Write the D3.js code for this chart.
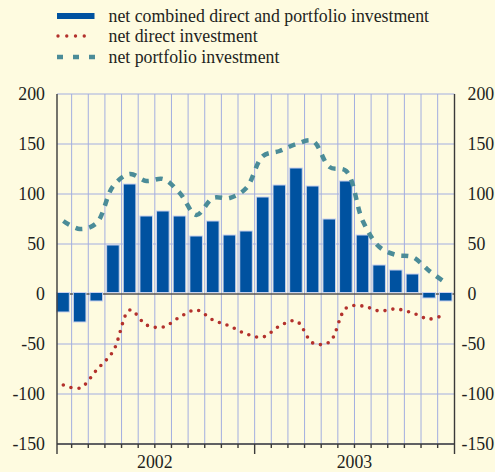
<!DOCTYPE html>
<html>
<head>
<meta charset="utf-8">
<script src="https://cdn.jsdelivr.net/npm/d3@7"></script>
<style>
  html, body { margin: 0; padding: 0; background: #fefbe0; }
  svg { display: block; }
</style>
</head>
<body>
<svg id="chart" width="495" height="472"></svg>
<script>
// Monthly categories, January 2002 to December 2003
const months = [
  "2002-01","2002-02","2002-03","2002-04","2002-05","2002-06",
  "2002-07","2002-08","2002-09","2002-10","2002-11","2002-12",
  "2003-01","2003-02","2003-03","2003-04","2003-05","2003-06",
  "2003-07","2003-08","2003-09","2003-10","2003-11","2003-12"
];
const years = ["2002", "2003"];

// Net combined direct and portfolio investment (bars)
const combined = [-18, -28, -7, 49, 110, 78, 83, 78, 58, 73, 59, 63,
                  97, 109, 126, 108, 75, 113, 59, 29, 24, 20, -4, -7];
// Net direct investment (dotted line)
const direct = [-91, -94, -76, -57, -16, -31, -33, -23, -16, -26, -32, -40,
                -43, -32, -27, -49, -48, -14, -12, -17, -15, -19, -25, -20];
// Net portfolio investment (dashed line)
const portfolio = [73, 65, 71, 108, 120, 113, 115, 101, 79, 96, 96, 106,
                   138, 143, 150, 153, 127, 123, 73, 47, 39, 37, 23, 11];

const yTicks = [-150, -100, -50, 0, 50, 100, 150, 200];

const legendItems = [
  { label: "net combined direct and portfolio investment", kind: "bar" },
  { label: "net direct investment", kind: "dot" },
  { label: "net portfolio investment", kind: "dash" }
];

const colors = {
  bar: "#0052a0",
  barEdge: "#c9d2ee",
  dot: "#b3312c",
  dash: "#4b8c98",
  grid: "#a3aee0",
  axis: "#3a3a3a",
  text: "#231f20"
};
const fs = 17.8;

const svg = d3.select("#chart");

const plotL = 57, plotR = 454.5, plotT = 94, plotB = 444;

const x = d3.scaleBand().domain(months).range([55, 454.3]).padding(0);
const y = d3.scaleLinear().domain([-150, 200]).range([plotB, plotT]);
const bw = x.bandwidth();
const cx = d => x(d) + bw / 2;

// Grid
const grid = svg.append("g");
grid.selectAll("line.h")
  .data(yTicks.filter(v => v !== 0))
  .join("line")
  .attr("x1", plotL).attr("x2", plotR)
  .attr("y1", d => y(d)).attr("y2", d => y(d))
  .attr("stroke", colors.grid).attr("stroke-width", 1);
grid.selectAll("line.v")
  .data(months.slice(1))
  .join("line")
  .attr("x1", d => x(d)).attr("x2", d => x(d))
  .attr("y1", plotT).attr("y2", plotB)
  .attr("stroke", colors.grid).attr("stroke-width", 1);

// Zero line
svg.append("line")
  .attr("x1", plotL).attr("x2", plotR)
  .attr("y1", y(0)).attr("y2", y(0))
  .attr("stroke", "#555").attr("stroke-width", 1.5);

// Bars
const barW = 12.6;
svg.append("g").selectAll("rect")
  .data(months.map((m, i) => ({ m, v: combined[i] })))
  .join("rect")
  .attr("x", d => cx(d.m) - barW / 2 - 0.3)
  .attr("width", barW)
  .attr("y", d => y(Math.max(0, d.v)) - (d.v >= 0 ? 0 : 1.5))
  .attr("height", d => Math.abs(y(d.v) - y(0)) + (d.v >= 0 ? -1.5 : 1.5))
  .attr("fill", colors.bar)
  .attr("stroke", colors.barEdge)
  .attr("stroke-width", 1);

// Lines
const line = d3.line()
  .x(d => cx(d.m))
  .y(d => y(d.v))
  .curve(d3.curveCatmullRom.alpha(0.5));

svg.append("path")
  .datum(months.map((m, i) => ({ m, v: portfolio[i] })))
  .attr("d", line)
  .attr("fill", "none")
  .attr("stroke", colors.dash)
  .attr("stroke-width", 4.5)
  .attr("stroke-dasharray", "7,7");

svg.append("path")
  .datum(months.map((m, i) => ({ m, v: direct[i] })))
  .attr("d", line)
  .attr("fill", "none")
  .attr("stroke", colors.dot)
  .attr("stroke-width", 3.6)
  .attr("stroke-linecap", "round")
  .attr("stroke-dasharray", "0,8");

// Axes frame
const ax = svg.append("g").attr("stroke", colors.axis).attr("stroke-width", 1.4).attr("fill", "none");
ax.append("line").attr("x1", plotL).attr("x2", plotL).attr("y1", plotT).attr("y2", plotB + 10);
ax.append("line").attr("x1", plotR).attr("x2", plotR).attr("y1", plotT).attr("y2", plotB + 10);
ax.append("line").attr("x1", plotL).attr("x2", plotR).attr("y1", plotB).attr("y2", plotB);
// month ticks
ax.selectAll("line.mt")
  .data(months.slice(1).filter(m => !m.endsWith("-01")))
  .join("line")
  .attr("x1", d => x(d)).attr("x2", d => x(d))
  .attr("y1", plotB).attr("y2", plotB + 4);
// year boundary ticks
ax.selectAll("line.yt")
  .data(months.filter(m => m.endsWith("-01") && m !== months[0]))
  .join("line")
  .attr("x1", d => x(d)).attr("x2", d => x(d))
  .attr("y1", plotB).attr("y2", plotB + 10);

// Text helper
function label(g, txt) {
  return g.append("text")
    .attr("font-family", "Liberation Serif")
    .style("font-family", "'Liberation Serif'")
    .style("font-size", fs + "px")
    .attr("fill", colors.text)
    .text(txt);
}

// Y tick labels, both sides; on the right the minus sign hangs left of the digits
const tickG = svg.append("g");
const minusW = fs * 0.333;
yTicks.forEach(v => {
  label(tickG, v).attr("x", 45).attr("y", y(v) + 6).attr("text-anchor", "end");
  label(tickG, v).attr("x", 467.5 - (v < 0 ? minusW : 0)).attr("y", y(v) + 6).attr("text-anchor", "start");
});

// Year labels
const yearG = svg.append("g");
years.forEach(yr => {
  const ms = months.filter(m => m.startsWith(yr));
  const mid = (x(ms[0]) + x(ms[ms.length - 1]) + bw) / 2;
  label(yearG, yr).attr("x", mid).attr("y", 468).attr("text-anchor", "middle");
});

// Legend
const lg = svg.append("g");
const rowY = [16, 36, 57];
legendItems.forEach((it, i) => {
  const yy = rowY[i];
  if (it.kind === "bar") {
    lg.append("rect").attr("x", 57).attr("y", yy - 3).attr("width", 37.5).attr("height", 6)
      .attr("fill", colors.bar);
  } else if (it.kind === "dot") {
    lg.append("line").attr("x1", 58).attr("x2", 93).attr("y1", yy).attr("y2", yy)
      .attr("stroke", colors.dot).attr("stroke-width", 3.4)
      .attr("stroke-linecap", "round").attr("stroke-dasharray", "0,8.75");
  } else {
    lg.append("line").attr("x1", 57).attr("x2", 95).attr("y1", yy).attr("y2", yy)
      .attr("stroke", colors.dash).attr("stroke-width", 4.5)
      .attr("stroke-dasharray", "6,10");
  }
  label(lg, it.label).attr("x", 108.5).attr("y", yy + 5.5);
});
</script>
</body>
</html>
